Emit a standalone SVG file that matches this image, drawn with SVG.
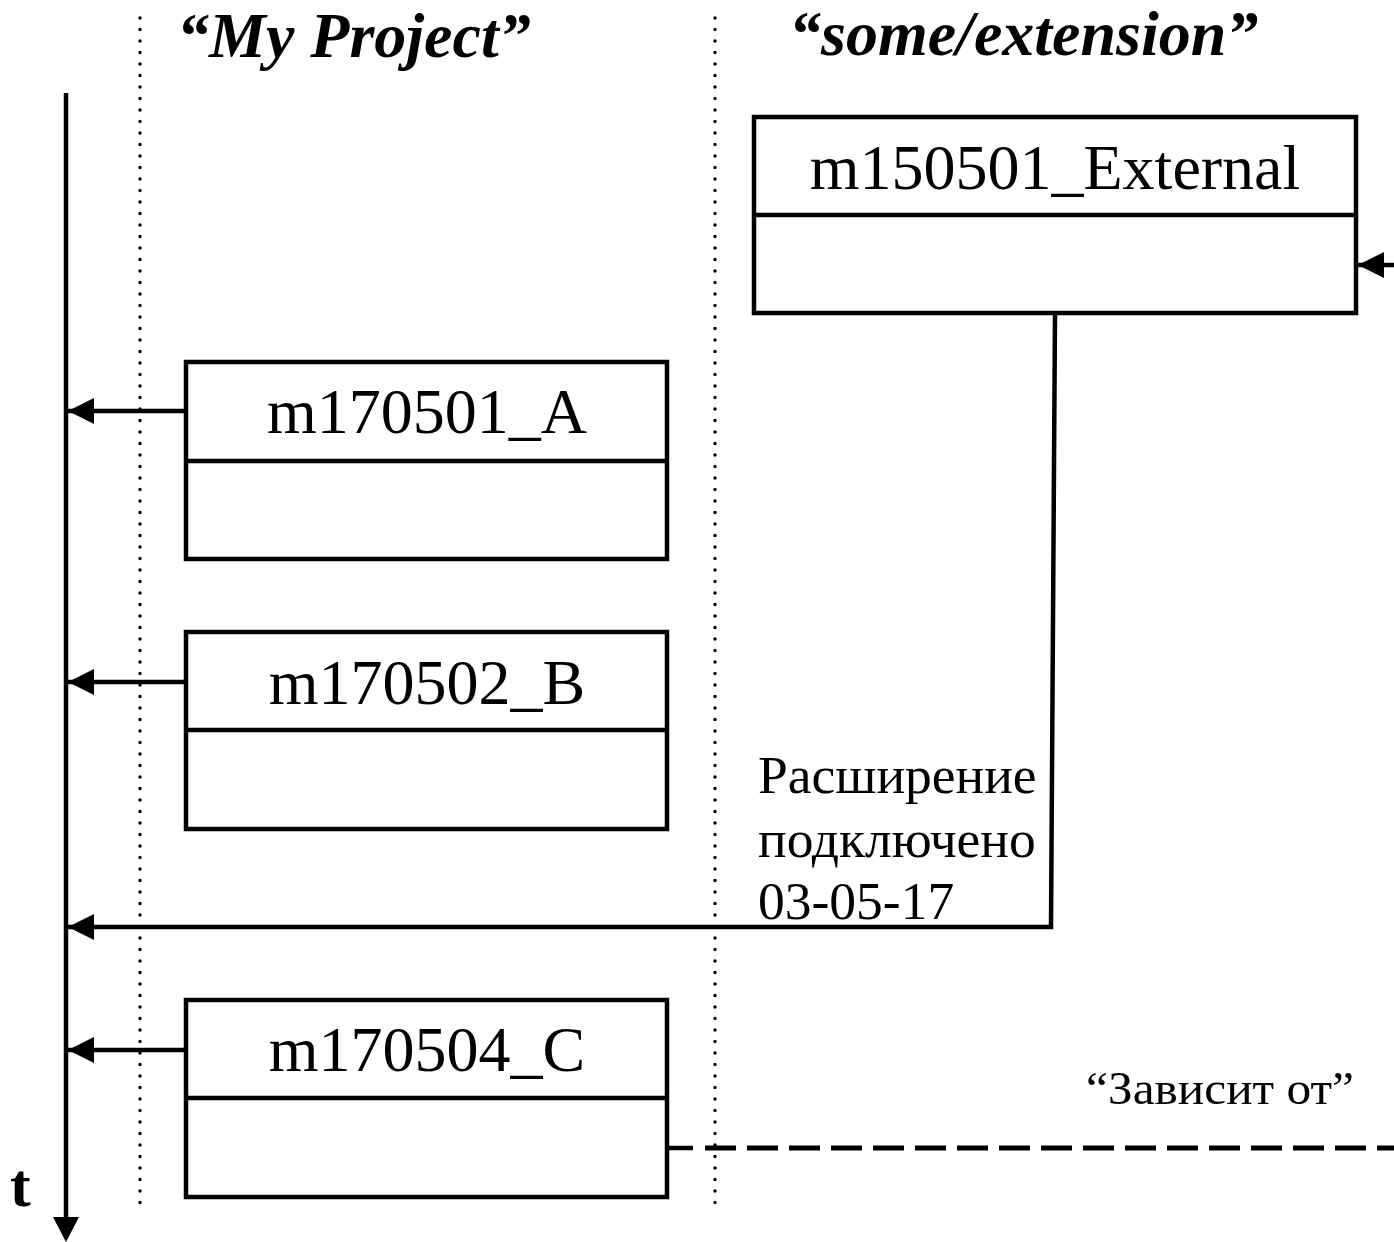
<svg xmlns="http://www.w3.org/2000/svg" width="1394" height="1242" viewBox="0 0 1394 1242">
<style>
.box{fill:#fff;stroke:#000;stroke-width:4.5}
.ln{fill:none;stroke:#000;stroke-width:4.5}
.dot{fill:none;stroke:#000;stroke-width:3.5;stroke-linecap:round;stroke-dasharray:0 11.5}
.t{font-family:"Liberation Serif","Times New Roman",serif;fill:#000}
.title{font-size:64px;font-weight:bold;font-style:italic}
.name{font-size:64px;text-anchor:middle}
.lbl{font-size:53.5px}
.dep{font-size:47px}
</style>
<defs>
<marker id="ah" markerWidth="28" markerHeight="28" refX="26" refY="14" orient="auto" markerUnits="userSpaceOnUse">
<path d="M0,1 L26,14 L0,27 Z" fill="#000"/>
</marker>
</defs>
<rect width="1394" height="1242" fill="#fff"/>
<g id="lanes">
<line class="dot" x1="140" y1="18" x2="140" y2="1214"/>
<line class="dot" x1="715" y1="18" x2="715" y2="1214"/>
<text class="t title" x="177" y="57">“My Project”</text>
<text class="t title" x="789" y="55">“some/extension”</text>
</g>
<g id="timeline">
<line class="ln" x1="66" y1="93" x2="66" y2="1220"/>
<path d="M53,1217 L79,1217 L66,1242 Z" fill="#000"/>
<text class="t" x="10" y="1206" font-size="62" font-weight="bold">t</text>
</g>
<g id="connectors">
<line class="ln" x1="186" y1="411" x2="68" y2="411" marker-end="url(#ah)"/>
<line class="ln" x1="186" y1="682" x2="68" y2="682" marker-end="url(#ah)"/>
<line class="ln" x1="186" y1="1050" x2="68" y2="1050" marker-end="url(#ah)"/>
<polyline class="ln" points="1055,313 1051,927 68,927" marker-end="url(#ah)"/>
<line class="ln" x1="1394" y1="265" x2="1358" y2="265" marker-end="url(#ah)"/>
<line class="ln" x1="667" y1="1148" x2="693" y2="1148"/>
<line x1="705" y1="1148" x2="1394" y2="1148" stroke="#000" stroke-width="5" stroke-dasharray="31 11"/>
</g>
<g id="m150501_External">
<rect class="box" x="754" y="117" width="602" height="196"/>
<line class="ln" x1="754" y1="215" x2="1356" y2="215"/>
<text class="t name" x="1055" y="189">m150501_External</text>
</g>
<g id="m170501_A">
<rect class="box" x="186" y="362" width="481" height="197"/>
<line class="ln" x1="186" y1="461" x2="667" y2="461"/>
<text class="t name" x="427" y="433">m170501_A</text>
</g>
<g id="m170502_B">
<rect class="box" x="186" y="632" width="481" height="197"/>
<line class="ln" x1="186" y1="730" x2="667" y2="730"/>
<text class="t name" x="427" y="704">m170502_B</text>
</g>
<g id="m170504_C">
<rect class="box" x="186" y="1000" width="481" height="197"/>
<line class="ln" x1="186" y1="1098" x2="667" y2="1098"/>
<text class="t name" x="427" y="1071">m170504_C</text>
</g>
<g id="labels">
<text class="t lbl" x="758" y="793">Расширение</text>
<text class="t lbl" x="758" y="857">подключено</text>
<text class="t lbl" x="758" y="919">03-05-17</text>
<text class="t dep" x="1086" y="1104" textLength="268" lengthAdjust="spacingAndGlyphs">“Зависит от”</text>
</g>
</svg>
